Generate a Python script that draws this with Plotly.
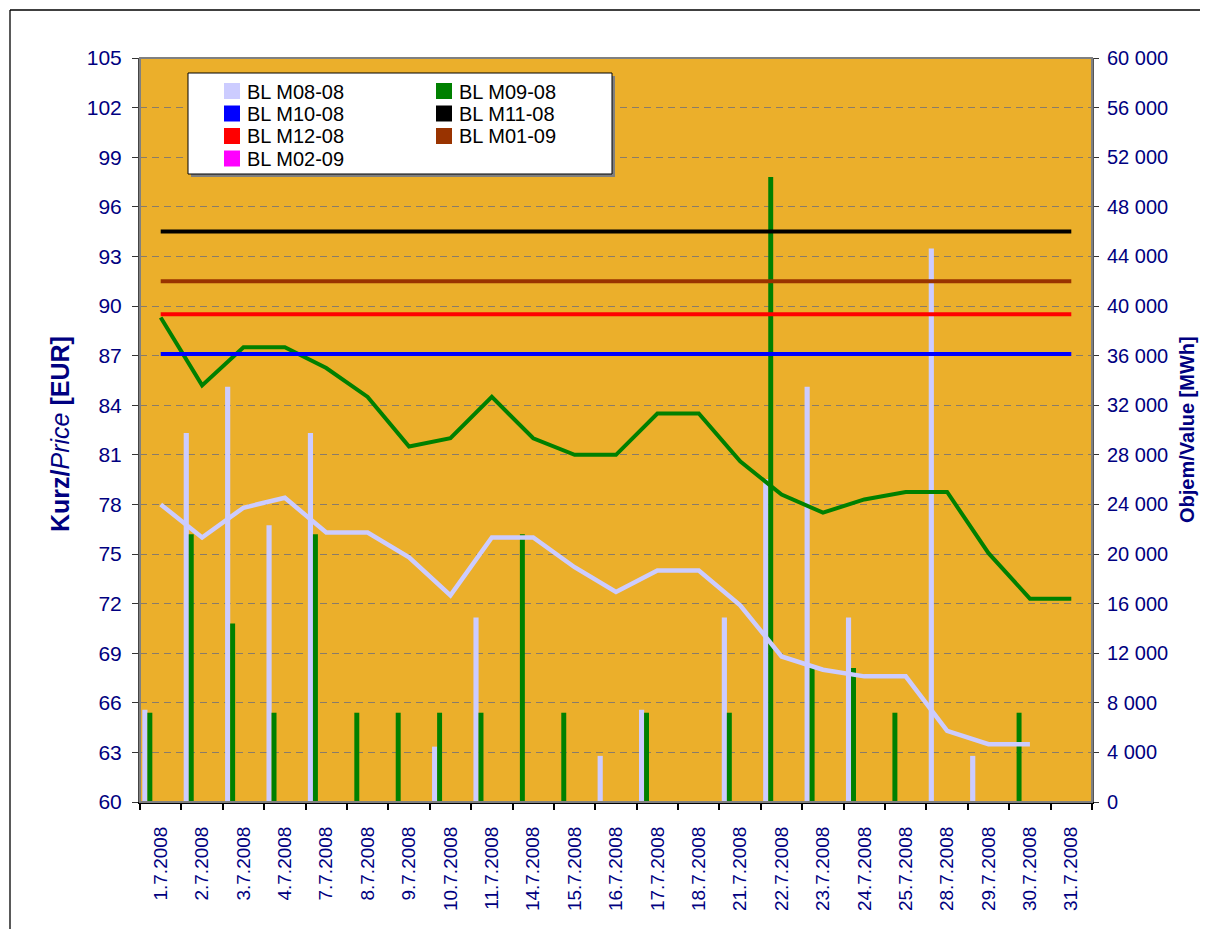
import plotly.graph_objects as go

# ---------------- data ----------------
dates = ["1.7.2008", "2.7.2008", "3.7.2008", "4.7.2008", "7.7.2008", "8.7.2008",
         "9.7.2008", "10.7.2008", "11.7.2008", "14.7.2008", "15.7.2008", "16.7.2008",
         "17.7.2008", "18.7.2008", "21.7.2008", "22.7.2008", "23.7.2008", "24.7.2008",
         "25.7.2008", "28.7.2008", "29.7.2008", "30.7.2008", "31.7.2008"]

# volumes [MWh] (right axis)
vol_m08 = [7440, 29760, 33480, 22320, 29760, None, None, 4464, 14880, None, None, 3720,
           7440, None, 14880, 26040, 33480, 14880, None, 44640, 3720, None, None]
vol_m09 = [7200, 21600, 14400, 7200, 21600, 7200, 7200, 7200, 7200, 21600, 7200, None,
           7200, None, 7200, 50400, 10800, 10800, 7200, None, None, 7200, None]

# prices [EUR] (left axis)
price_m08 = [78.0, 76.0, 77.8, 78.4, 76.3, 76.3, 74.8, 72.5, 76.0, 76.0, 74.2, 72.7,
             74.0, 74.0, 71.9, 68.8, 68.0, 67.6, 67.6, 64.3, 63.5, 63.5, None]
price_m09 = [89.3, 85.2, 87.5, 87.5, 86.25, 84.5, 81.5, 82.0, 84.5, 82.0, 81.0, 81.0,
             83.5, 83.5, 80.6, 78.6, 77.5, 78.3, 78.75, 78.75, 75.05, 72.3, 72.3]
price_m10 = [87.1] * 23
price_m11 = [94.5] * 23
price_m12 = [89.5] * 23
price_m01 = [91.5] * 23
price_m02 = [None] * 23

names = ["BL M08-08", "BL M09-08", "BL M10-08", "BL M11-08", "BL M12-08", "BL M01-09", "BL M02-09"]
colors = ["#CCCCFF", "#008000", "#0000FF", "#000000", "#FF0000", "#993300", "#FF00FF"]

# ---------------- figure ----------------
idx = list(range(len(dates)))
FONT = "Liberation Sans, Arial, sans-serif"
NAVY = "#000080"

fig = go.Figure()

# bars on volume axis (y, right side), offset inside each category
fig.add_trace(go.Bar(x=[i - 0.382 for i in idx], y=vol_m08, width=0.125,
                     marker=dict(color=colors[0], line=dict(width=0)),
                     yaxis="y", showlegend=False, name=names[0]))
fig.add_trace(go.Bar(x=[i - 0.262 for i in idx], y=vol_m09, width=0.12,
                     marker=dict(color=colors[1], line=dict(width=0)),
                     yaxis="y", showlegend=False, name=names[1]))

# price lines on y2 (left side, drawn on top)
line_series = [(price_m08, 0, 4.5), (price_m09, 1, 4), (price_m10, 2, 4),
               (price_m11, 3, 4), (price_m12, 4, 4), (price_m01, 5, 4),
               (price_m02, 6, 4)]
for vals, ci, w in line_series:
    fig.add_trace(go.Scatter(x=idx, y=vals, mode="lines", yaxis="y2",
                             line=dict(color=colors[ci], width=w),
                             showlegend=False, name=names[ci]))

# page has an 8px body margin: figure is 8px smaller and placed at (8, 8)
OFF = 8
W, H = 1208 - OFF, 929 - OFF
PX0, PX1, PY0, PY1 = 140, 1092, 58, 802   # plot area in screen pixels
L, T = PX0 - OFF, PY0 - OFF
R, B = W - (PX1 - OFF), H - (PY1 - OFF)
PW, PH = PX1 - PX0, PY1 - PY0

def px(xp):
    return (xp - PX0) / PW

def py(yp):
    return (PY1 - yp) / PH

shapes = []
annotations = []

# outer frame (only left and top edges are visible in the reference)
shapes.append(dict(type="line", xref="paper", yref="paper", x0=px(10), x1=px(10),
                   y0=py(960), y1=py(10), line=dict(color="black", width=1.3), layer="below"))
shapes.append(dict(type="line", xref="paper", yref="paper", x0=px(10), x1=px(1240),
                   y0=py(10), y1=py(10), line=dict(color="black", width=1.3), layer="below"))
# plot area border (gray top/right)
shapes.append(dict(type="rect", xref="paper", yref="paper", x0=0, x1=1, y0=0, y1=1,
                   line=dict(color="#808080", width=2), layer="above"))

# legend box with shadow
shapes.append(dict(type="rect", xref="paper", yref="paper", x0=px(191), x1=px(615),
                   y0=py(177), y1=py(76), line=dict(width=0), fillcolor="#7f7f7f",
                   layer="above"))
shapes.append(dict(type="rect", xref="paper", yref="paper", x0=px(188), x1=px(612),
                   y0=py(174), y1=py(73), line=dict(color="black", width=1),
                   fillcolor="white", layer="above"))

rows = [91, 113.5, 136, 158.5]
legend_layout = [(0, 224, rows[0]), (2, 224, rows[1]), (4, 224, rows[2]), (6, 224, rows[3]),
                 (1, 436, rows[0]), (3, 436, rows[1]), (5, 436, rows[2])]
for ci, sx, cy in legend_layout:
    shapes.append(dict(type="rect", xref="paper", yref="paper", x0=px(sx), x1=px(sx + 16),
                       y0=py(cy + 8), y1=py(cy - 8), line=dict(width=0),
                       fillcolor=colors[ci], layer="above"))
    annotations.append(dict(xref="paper", yref="paper", x=px(sx + 21), y=py(cy + 0.5),
                            xanchor="left", yanchor="middle", showarrow=False,
                            text=names[ci], font=dict(family=FONT, size=20, color="black")))

# axis titles
annotations.append(dict(xref="paper", yref="paper", x=px(60), y=py(434), textangle=-90,
                        xanchor="center", yanchor="middle", showarrow=False,
                        text="<b>Kurz/</b><i>Price</i><b> [EUR]</b>",
                        font=dict(family=FONT, size=25, color=NAVY)))
annotations.append(dict(xref="paper", yref="paper", x=px(1187), y=py(430), textangle=-90,
                        xanchor="center", yanchor="middle", showarrow=False,
                        text="<b>Objem/Value [MWh]</b>",
                        font=dict(family=FONT, size=20, color=NAVY)))

fig.update_layout(
    width=W, height=H,
    margin=dict(l=L, r=R, t=T, b=B, pad=0),
    paper_bgcolor="white",
    plot_bgcolor="#EBAF2B",
    barmode="overlay",
    separators=", ",
    showlegend=False,
    font=dict(family=FONT, color=NAVY),
    shapes=shapes,
    annotations=annotations,
    xaxis=dict(
        range=[-0.5, len(dates) - 0.5],
        tickmode="array", tickvals=idx, ticktext=dates, tickangle=-90,
        ticks="", showgrid=False, zeroline=False,
        tickfont=dict(family=FONT, size=19, color=NAVY),
        ticklabelstandoff=15,
        showline=True, linecolor="black", linewidth=2,
        minor=dict(tick0=-0.5, dtick=1, ticks="outside", ticklen=6,
                   tickcolor="black", tickwidth=1.5, showgrid=False),
    ),
    yaxis=dict(
        side="right", range=[0, 60000], tickmode="linear", tick0=0, dtick=4000,
        tickformat=",d", showgrid=False, zeroline=False,
        ticks="outside", ticklen=5, tickcolor="#333333",
        tickfont=dict(family=FONT, size=20, color=NAVY),
        ticklabelstandoff=4,
        showline=True, linecolor="#555555", linewidth=2,
    ),
    yaxis2=dict(
        side="left", overlaying="y", range=[60, 105], tickmode="linear", tick0=60, dtick=3,
        showgrid=True, gridcolor="#8a7c68", griddash="7px,5px", gridwidth=1.3,
        zeroline=False, ticks="outside", ticklen=6, tickcolor="#333333",
        tickfont=dict(family=FONT, size=21, color=NAVY),
        ticklabelstandoff=6,
        showline=True, linecolor="#444444", linewidth=2,
    ),
)

fig.write_html("out.html")
